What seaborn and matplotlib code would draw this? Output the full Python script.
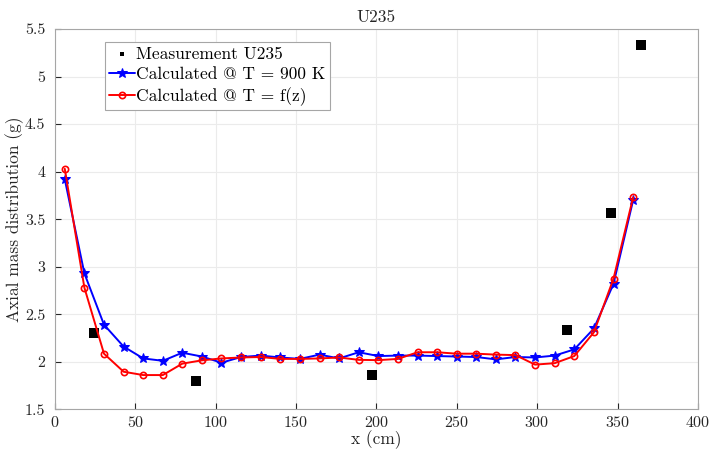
import numpy as np
import pandas as pd
import matplotlib
matplotlib.use('Agg')
import matplotlib.pyplot as plt
import seaborn as sns

# axial node centres (cm)
z = [6.1, 18.3, 30.5, 42.7, 54.9, 67.1, 79.2, 91.4, 103.6, 115.8,
     128.0, 140.2, 152.4, 164.6, 176.8, 189.0, 201.2, 213.4, 225.6, 237.7,
     249.9, 262.1, 274.3, 286.5, 298.7, 310.9, 323.1, 335.3, 347.5, 359.7]

# calculated @ T = 900 K
calc_900 = [3.92, 2.93, 2.39, 2.16, 2.035, 2.01, 2.095, 2.055, 1.99, 2.05,
            2.065, 2.045, 2.03, 2.075, 2.035, 2.10, 2.06, 2.065, 2.065, 2.06,
            2.055, 2.05, 2.025, 2.05, 2.045, 2.065, 2.13, 2.35, 2.82, 3.70]

# calculated @ T = f(z)
calc_fz = [4.03, 2.78, 2.085, 1.895, 1.86, 1.86, 1.98, 2.015, 2.035, 2.045,
           2.05, 2.03, 2.03, 2.035, 2.045, 2.02, 2.017, 2.03, 2.10, 2.10,
           2.085, 2.085, 2.075, 2.07, 1.97, 1.985, 2.06, 2.31, 2.875, 3.73]

# measurements
meas_x = [24.5, 88.0, 197.1, 318.6, 346.2, 364.5]
meas_y = [2.305, 1.80, 1.856, 2.337, 3.565, 5.33]

sns.set_theme(style='whitegrid', rc={
    'grid.color': '#ebebeb',
    'grid.linewidth': 0.8,
    'axes.edgecolor': '#a6a6a6',
    'axes.linewidth': 0.8,
    'xtick.direction': 'in',
    'ytick.direction': 'in',
    'xtick.color': '#262626',
    'ytick.color': '#262626',
    'xtick.bottom': True,
    'ytick.left': True,
    'xtick.major.size': 4,
    'ytick.major.size': 4,
    'xtick.major.width': 0.8,
    'ytick.major.width': 0.8,
})
plt.rcParams['font.family'] = ['cmr10', 'DejaVu Serif']
plt.rcParams['mathtext.fontset'] = 'cm'
plt.rcParams['axes.formatter.use_mathtext'] = True

fig = plt.figure(figsize=(7.12, 4.51), dpi=100)
ax = fig.add_axes([0.0772, 0.0925, 0.903, 0.843])

df900 = pd.DataFrame({'x': z, 'y': calc_900})
dffz = pd.DataFrame({'x': z, 'y': calc_fz})
dfm = pd.DataFrame({'x': meas_x, 'y': meas_y})

sns.scatterplot(data=dfm, x='x', y='y', marker='s', s=55, color='black',
                edgecolor='black', linewidth=0, ax=ax, label='Measurement U235', zorder=3)
sns.lineplot(data=df900, x='x', y='y', color='blue', marker='*', markersize=7,
             markeredgecolor='blue', linewidth=1.4, ax=ax,
             label='Calculated @ T = 900 K', zorder=4)
sns.lineplot(data=dffz, x='x', y='y', color='red', marker='o', markersize=4.5,
             markerfacecolor='none', markeredgecolor='red', markeredgewidth=1.2,
             linewidth=1.4, ax=ax, label='Calculated @ T = f(z)', zorder=5)

ax.set_xlim(0, 400)
ax.set_ylim(1.5, 5.5)
ax.set_xticks(np.arange(0, 401, 50))
ax.set_yticks(np.arange(1.5, 5.51, 0.5))
ax.set_yticklabels(['1.5', '2', '2.5', '3', '3.5', '4', '4.5', '5', '5.5'])
ax.tick_params(axis='x', labelsize=11.5, pad=4)
ax.tick_params(axis='y', labelsize=11.5, pad=7)
for side in ['top', 'right']:
    ax.spines[side].set_visible(True)

ax.set_xlabel('x (cm)', fontsize=12.5, color='#262626', labelpad=0)
ax.set_ylabel('Axial mass distribution (g)', fontsize=12.5, color='#262626', labelpad=0.5)
ax.set_title('U235', fontsize=12.5, color='#262626', pad=5)

leg = ax.legend(loc='upper left', bbox_to_anchor=(0.0778, 0.966), fontsize=12.5,
                frameon=True, fancybox=False, edgecolor='#a6a6a6', framealpha=1,
                handlelength=1.45, handletextpad=0.1, borderpad=0.25, labelspacing=0.3,
                borderaxespad=0)
leg.get_frame().set_linewidth(0.8)
leg.legend_handles[0].set_sizes([10])
for t in leg.get_texts():
    t.set_color('black')

fig.savefig('out.png', dpi=100)
